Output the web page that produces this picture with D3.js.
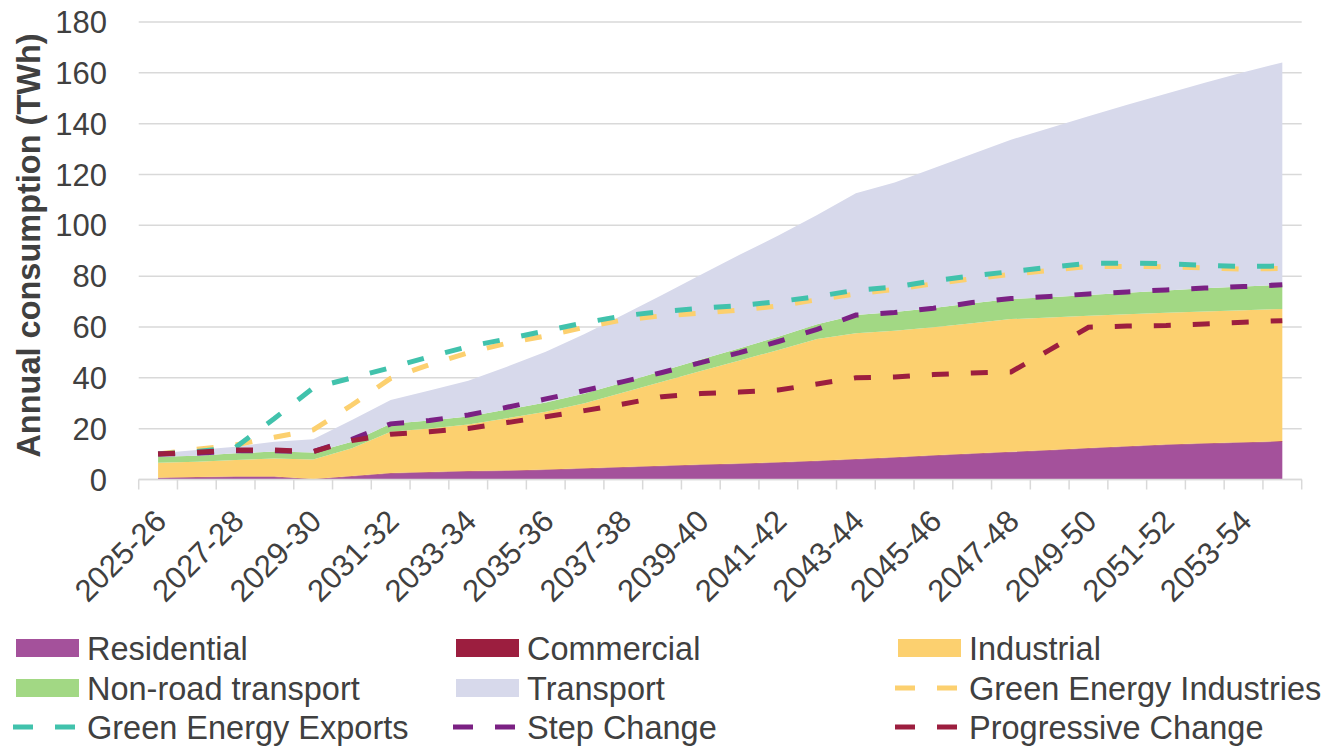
<!DOCTYPE html>
<html>
<head>
<meta charset="utf-8">
<script src="https://cdn.jsdelivr.net/npm/d3@7"></script>
<style>
  body { margin: 0; background: #fff; }
  text { font-family: "Liberation Sans", Arial, sans-serif; fill: #404040; }
</style>
</head>
<body>
<script>
// categories (financial years)
var years = ["2025-26", "2026-27", "2027-28", "2028-29", "2029-30", "2030-31", "2031-32", "2032-33",
    "2033-34", "2034-35", "2035-36", "2036-37", "2037-38", "2038-39", "2039-40", "2040-41",
    "2041-42", "2042-43", "2043-44", "2044-45", "2045-46", "2046-47", "2047-48", "2048-49",
    "2049-50", "2050-51", "2051-52", "2052-53", "2053-54", "2054-55"];

// stacked areas (TWh)
var residential = [0.5, 0.8, 1.0, 1.0, 0.0, 1.2, 2.4, 2.8, 3.1, 3.3, 3.7, 4.2, 4.7, 5.2, 5.7,
    6.1, 6.6, 7.2, 7.9, 8.6, 9.3, 10.0, 10.7, 11.4, 12.2, 12.9, 13.6, 14.1, 14.5, 14.9];
var commercial = [0.2, 0.2, 0.2, 0.2, 0.2, 0.2, 0.2, 0.2, 0.2, 0.2, 0.2, 0.2, 0.2, 0.2, 0.2,
    0.2, 0.2, 0.2, 0.2, 0.2, 0.2, 0.2, 0.2, 0.2, 0.2, 0.2, 0.2, 0.2, 0.2, 0.2];
var industrial = [5.9, 6.0, 6.5, 7.1, 7.7, 10.9, 16.2, 17.1, 18.3, 20.6, 22.8, 25.6, 29.3, 33.1, 36.8,
    40.5, 44.2, 47.9, 49.4, 49.7, 50.4, 51.3, 52.2, 52.1, 52.0, 51.9, 51.8, 51.8, 51.9, 52.0];
var nonRoad = [2.4, 2.3, 2.6, 2.7, 2.7, 2.6, 3.1, 3.1, 3.2, 3.4, 3.6, 3.8, 4.0, 4.2, 4.5,
    4.8, 5.2, 5.8, 7.2, 7.4, 7.6, 7.8, 7.9, 8.0, 8.2, 8.5, 8.8, 9.1, 9.3, 9.5];
var transport = [1.3, 2.3, 2.6, 3.9, 5.2, 8.5, 9.4, 11.8, 14.1, 16.9, 20.0, 23.4, 26.6, 29.9, 33.4,
    36.8, 39.8, 43.0, 47.9, 51.0, 55.0, 58.8, 62.7, 66.6, 70.3, 73.9, 77.4, 80.9, 84.3, 87.5];

// scenario lines (TWh)
var greenIndustries = [10, 11.9, 13.6, 16.6, 19.5, 29.3, 39.8, 45.2, 49.9, 53.6, 56.5, 59.9, 62.8, 64.4, 65.4,
    66.7, 68.3, 70.7, 73.0, 74.8, 77.0, 79.0, 80.7, 82.3, 83.8, 83.8, 83.7, 83.2, 82.8, 83.0];
var greenExports = [10, 11, 12.7, 24, 36, 40, 44, 48.3, 52.3, 55.3, 58.5, 61.7, 64.4, 66.1, 67.4,
    68.4, 70.0, 72.0, 74.5, 75.7, 78.2, 80.1, 81.8, 83.5, 85.1, 85.1, 84.9, 84.3, 83.8, 84.0];
var stepChange = [10, 10.3, 11.3, 11.3, 11.0, 15.8, 21.9, 23.2, 25.4, 28.4, 31.7, 35.0, 38.5, 42.1, 46.0,
    49.9, 54.3, 59.1, 64.7, 65.7, 67.4, 69.6, 71.2, 72.0, 73.0, 73.8, 74.6, 75.3, 75.9, 76.6];
var progressiveChange = [10, 10.7, 11.6, 11.6, 11.0, 15.3, 17.8, 18.8, 20.1, 22.4, 24.7, 27.1, 29.7, 32.6, 33.8,
    34.4, 35.2, 37.6, 40.0, 40.3, 41.3, 41.9, 42.3, 51.0, 59.9, 60.4, 60.6, 61.2, 61.9, 62.5];

var yTicks = [0, 20, 40, 60, 80, 100, 120, 140, 160, 180];

var areaKeys = ["Residential", "Commercial", "Industrial", "Non-road transport", "Transport"];
var areaColors = ["#A4519B", "#9C1E3F", "#FCD06F", "#A2D884", "#D7D9EB"];
var lineKeys = ["Green Energy Industries", "Green Energy Exports", "Step Change", "Progressive Change"];
var lineColors = ["#FCD06F", "#41C2AC", "#7B2183", "#9C1E3F"];

var fullWidth = 1324, fullHeight = 746;
var plotLeft = 138.7, plotRight = 1301.7, plotTop = 22, plotBottom = 479.5;

var svg = d3.select("body").append("svg")
    .attr("width", fullWidth)
    .attr("height", fullHeight);

var x = d3.scaleBand().domain(years).range([plotLeft, plotRight]).padding(0);
var cx = function (d) { return x(d) + x.bandwidth() / 2; };
var y = d3.scaleLinear().domain([0, 180]).range([plotBottom, plotTop]);

// gridlines
svg.append("g").selectAll("line")
    .data(yTicks)
    .enter().append("line")
    .attr("x1", plotLeft).attr("x2", plotRight)
    .attr("y1", function (d) { return y(d); })
    .attr("y2", function (d) { return y(d); })
    .attr("stroke", "#D9D9D9")
    .attr("stroke-width", 1.5);

// build table for stack
var table = years.map(function (yr, i) {
    return {
        year: yr,
        "Residential": residential[i],
        "Commercial": commercial[i],
        "Industrial": industrial[i],
        "Non-road transport": nonRoad[i],
        "Transport": transport[i]
    };
});

var stackedData = d3.stack().keys(areaKeys)(table);

var area = d3.area()
    .x(function (d) { return cx(d.data.year); })
    .y0(function (d) { return y(d[0]); })
    .y1(function (d) { return y(d[1]); });

svg.append("g").selectAll("path")
    .data(stackedData)
    .enter().append("path")
    .attr("fill", function (d, i) { return areaColors[i]; })
    .attr("d", area);

// x axis line and ticks
var tickPos = years.map(function (d) { return x(d); }).concat([plotRight]);
svg.append("line")
    .attr("x1", plotLeft).attr("x2", plotRight)
    .attr("y1", plotBottom).attr("y2", plotBottom)
    .attr("stroke", "#D9D9D9").attr("stroke-width", 1.5);
svg.append("g").selectAll("line")
    .data(tickPos)
    .enter().append("line")
    .attr("x1", function (d) { return d; })
    .attr("x2", function (d) { return d; })
    .attr("y1", plotBottom).attr("y2", plotBottom + 10)
    .attr("stroke", "#D9D9D9").attr("stroke-width", 1.5);

// scenario lines
var lineSeries = [greenIndustries, greenExports, stepChange, progressiveChange];
var line = d3.line()
    .x(function (d, i) { return cx(years[i]); })
    .y(function (d) { return y(d); });

svg.append("g").selectAll("path")
    .data(lineSeries)
    .enter().append("path")
    .attr("fill", "none")
    .attr("stroke", function (d, i) { return lineColors[i]; })
    .attr("stroke-width", 5)
    .attr("stroke-dasharray", "17,22")
    .attr("d", line);

// y tick labels
svg.append("g").selectAll("text")
    .data(yTicks)
    .enter().append("text")
    .attr("x", 107)
    .attr("y", function (d) { return y(d) + 11; })
    .attr("text-anchor", "end")
    .style("font-size", "31px")
    .text(function (d) { return d; });

// x labels (every other year)
svg.append("g").selectAll("text")
    .data(years.filter(function (d, i) { return i % 2 === 0; }))
    .enter().append("text")
    .attr("text-anchor", "end")
    .attr("transform", function (d) { return "translate(" + (cx(d) + 10) + ",523) rotate(-45)"; })
    .style("font-size", "31px")
    .text(function (d) { return d; });

// y axis title
svg.append("text")
    .attr("transform", "translate(39.5,245.5) rotate(-90)")
    .attr("text-anchor", "middle")
    .style("font-size", "32.5px")
    .style("font-weight", "bold")
    .text("Annual consumption (TWh)");

// legend
var legendItems = areaKeys.map(function (k, i) { return { name: k, color: areaColors[i], type: "area" }; })
    .concat(lineKeys.map(function (k, i) { return { name: k, color: lineColors[i], type: "line" }; }));
var colX = [16, 456, 898];
var rowY = [648, 688, 727];

var legend = svg.append("g").selectAll("g")
    .data(legendItems)
    .enter().append("g")
    .attr("transform", function (d, i) { return "translate(" + colX[i % 3] + "," + rowY[Math.floor(i / 3)] + ")"; });

legend.filter(function (d) { return d.type === "area"; })
    .append("rect")
    .attr("x", 0).attr("y", -9)
    .attr("width", 63).attr("height", 18)
    .attr("fill", function (d) { return d.color; });

legend.filter(function (d) { return d.type === "line"; })
    .append("line")
    .attr("x1", -3).attr("x2", 59)
    .attr("y1", 0).attr("y2", 0)
    .attr("stroke", function (d) { return d.color; })
    .attr("stroke-width", 5)
    .attr("stroke-dasharray", "20,22");

legend.append("text")
    .attr("x", 71)
    .attr("y", 11.5)
    .style("font-size", "32.5px")
    .text(function (d) { return d.name; });
</script>
</body>
</html>
